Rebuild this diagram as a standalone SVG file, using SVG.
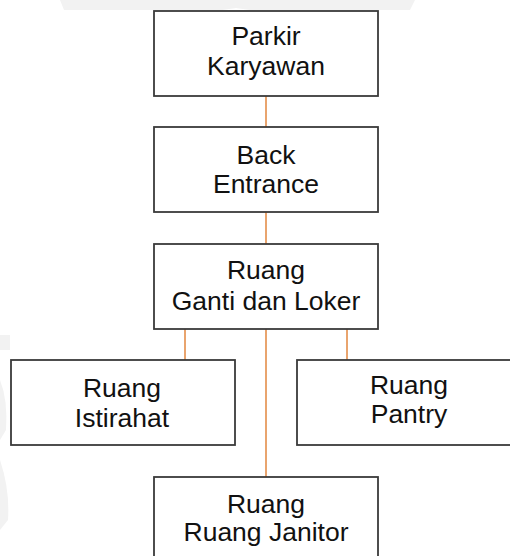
<svg xmlns="http://www.w3.org/2000/svg" width="510" height="556" viewBox="0 0 510 556">
<style>
.box{fill:#fff;stroke:#3a3a3a;stroke-width:1.8}
.lbl{font-family:"Liberation Sans",Arial,sans-serif;font-size:26.5px;fill:#111;text-anchor:middle}
.con{stroke:#e9a46e;stroke-width:2;fill:none}
.wm{fill:#f2f2f2}
</style>
<rect width="510" height="556" fill="#fff"/>
<g id="watermark">
<polygon class="wm" points="60,0 415,0 410,10 250,10 236,8 222,10 64,10"/>
<rect class="wm" x="0" y="335" width="10" height="15"/>
<path class="wm" d="M0,380 Q8,400 6,430 L0,440 Z"/>
<path class="wm" d="M0,460 Q10,490 8,520 L0,530 Z"/>
</g>
<g id="connectors">
<line class="con" x1="266" y1="96" x2="266" y2="127"/>
<line class="con" x1="266" y1="212" x2="266" y2="244"/>
<line class="con" x1="185" y1="329" x2="185" y2="360"/>
<line class="con" x1="347" y1="329" x2="347" y2="360"/>
<line class="con" x1="266" y1="329" x2="266" y2="477"/>
</g>
<g id="parkir">
<rect class="box" x="154" y="11" width="224" height="85"/>
<text class="lbl" x="266" y="45">Parkir</text>
<text class="lbl" x="266" y="75">Karyawan</text>
</g>
<g id="back">
<rect class="box" x="154" y="127" width="224" height="85"/>
<text class="lbl" x="266" y="164">Back</text>
<text class="lbl" x="266" y="193">Entrance</text>
</g>
<g id="ganti">
<rect class="box" x="154" y="244" width="224" height="85"/>
<text class="lbl" x="266" y="279">Ruang</text>
<text class="lbl" x="266" y="310">Ganti dan Loker</text>
</g>
<g id="istirahat">
<rect class="box" x="11" y="360" width="224" height="85"/>
<text class="lbl" x="122" y="397">Ruang</text>
<text class="lbl" x="122" y="427">Istirahat</text>
</g>
<g id="pantry">
<rect class="box" x="297" y="360" width="224" height="85"/>
<text class="lbl" x="409" y="394">Ruang</text>
<text class="lbl" x="409" y="423">Pantry</text>
</g>
<g id="janitor">
<rect class="box" x="154" y="477" width="224" height="85"/>
<text class="lbl" x="266" y="513">Ruang</text>
<text class="lbl" x="266" y="541">Ruang Janitor</text>
</g>
</svg>
